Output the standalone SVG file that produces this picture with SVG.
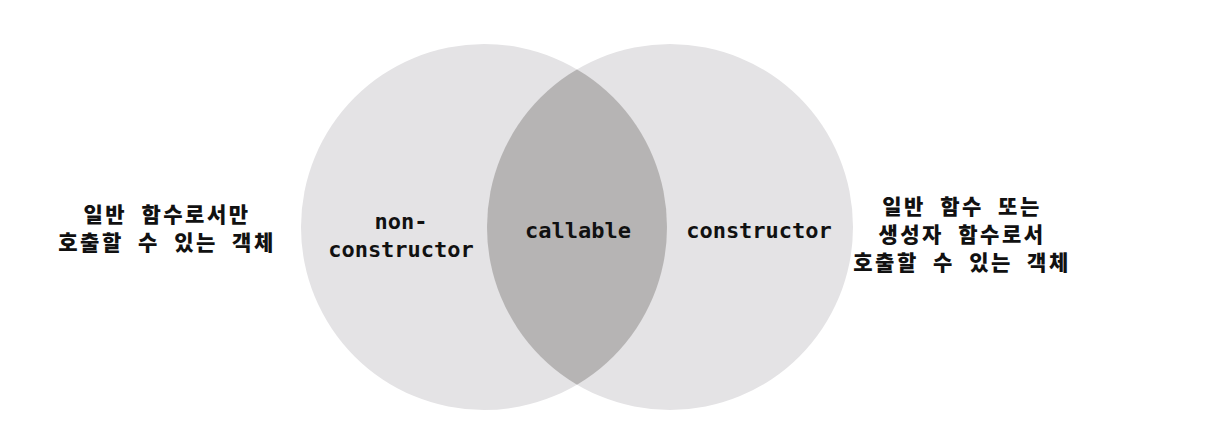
<svg xmlns="http://www.w3.org/2000/svg" width="1226" height="442" viewBox="0 0 1226 442">
<style>
.circ{fill:#e4e3e5}
.lens{fill:#b6b4b4}
.en{font-family:"DejaVu Sans Mono","Liberation Mono",monospace;font-weight:bold;font-size:22px;fill:#111;text-anchor:middle}
.ko{font-family:"Noto Sans CJK KR","Noto Sans",sans-serif;font-weight:900;font-size:21px;fill:#111;text-anchor:middle;letter-spacing:2.5px;word-spacing:7px}
</style>
<defs>
<clipPath id="clipL"><circle cx="484" cy="227" r="183"/></clipPath>
</defs>
<rect width="1226" height="442" fill="#fff"/>
<g id="node-nonconstructor">
<circle class="circ" cx="484" cy="227" r="183"/>
</g>
<g id="node-constructor">
<circle class="circ" cx="670" cy="227" r="183"/>
</g>
<g id="node-callable">
<circle class="lens" cx="670" cy="227" r="183" clip-path="url(#clipL)"/>
<text class="en" x="578" y="238">callable</text>
</g>
<g id="label-nonconstructor">
<text class="en" x="401" y="229">non-</text>
<text class="en" x="401" y="257">constructor</text>
</g>
<g id="label-constructor">
<text class="en" x="759" y="238">constructor</text>
</g>
<g id="desc-left">
<text class="ko" x="167" y="222">일반 함수로서만</text>
<text class="ko" x="167" y="250">호출할 수 있는 객체</text>
</g>
<g id="desc-right">
<text class="ko" x="962" y="214">일반 함수 또는</text>
<text class="ko" x="962" y="242">생성자 함수로서</text>
<text class="ko" x="962" y="270">호출할 수 있는 객체</text>
</g>
<g id="connectors"></g>
</svg>
